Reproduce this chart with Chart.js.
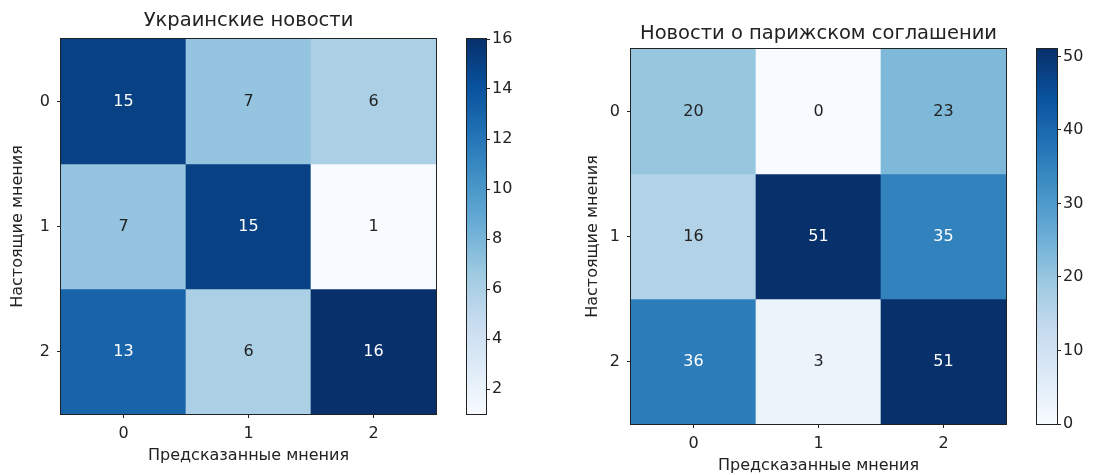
<!DOCTYPE html>
<html>
<head>
<meta charset="utf-8">
<script src="https://cdn.jsdelivr.net/npm/chart.js@4/dist/chart.umd.min.js"></script>
<style>
  html, body { margin: 0; padding: 0; background: #fff; }
  #fig { position: relative; width: 1094px; height: 475px; overflow: hidden; }
  #fig canvas { position: absolute; top: 0; }
</style>
</head>
<body>
<div id="fig">
  <canvas id="ukrMap" width="450" height="475" style="left:0px"></canvas>
  <canvas id="ukrBar" width="80" height="475" style="left:450px"></canvas>
  <canvas id="parMap" width="460" height="475" style="left:560px"></canvas>
  <canvas id="parBar" width="74" height="475" style="left:1020px"></canvas>
</div>
<script>
// data
const categories = ['0', '1', '2'];
const ukraineValues = [
  [15, 7, 6],
  [7, 15, 1],
  [13, 6, 16]
];
const parisValues = [
  [20, 0, 23],
  [16, 51, 35],
  [36, 3, 51]
];
const ukraineTicks = [2, 4, 6, 8, 10, 12, 14, 16];
const parisTicks = [0, 10, 20, 30, 40, 50];

const FONT = 'DejaVu Sans';
const INK = '#222';
const LABEL_SIZE = 16;
const TITLE_SIZE = 19.5;
// matplotlib "Blues"
const BLUES = ['#f7fbff', '#deebf7', '#c6dbef', '#9ecae1', '#6baed6', '#4292c6', '#2171b5', '#08519c', '#08306b'];

function hexRgb(h) {
  return [1, 3, 5].map(i => parseInt(h.substr(i, 2), 16));
}

function blues(t) {
  const i = Math.min(255, Math.max(0, Math.floor(t * 256)));
  const pos = i / 255 * 8;
  const k = Math.min(7, Math.floor(pos));
  const f = pos - k;
  const a = hexRgb(BLUES[k]), b = hexRgb(BLUES[k + 1]);
  const c = a.map((v, j) => Math.round(v + (b[j] - v) * f));
  return `rgb(${c[0]},${c[1]},${c[2]})`;
}

const framePlugin = {
  id: 'frame',
  afterDatasetsDraw(chart) {
    const { ctx, chartArea: a } = chart;
    ctx.save();
    ctx.strokeStyle = INK;
    ctx.lineWidth = 1;
    ctx.strokeRect(a.left - 0.5, a.top - 0.5, a.right - a.left + 1, a.bottom - a.top + 1);
    ctx.restore();
  }
};

function heatmap(id, values, title, box) {
  const flat = values.flat();
  const lo = Math.min(...flat), hi = Math.max(...flat);
  const thresh = hi / 2;

  const datasets = values.map((row, r) => ({
    data: row.map(() => [r - 0.5, r + 0.5]),
    backgroundColor: row.map(v => blues((v - lo) / (hi - lo))),
    borderWidth: 0,
    barPercentage: 1,
    categoryPercentage: 1,
    grouped: false
  }));

  const labelPlugin = {
    id: 'cellLabels',
    afterDatasetsDraw(chart) {
      const { ctx, scales: { x, y } } = chart;
      ctx.save();
      ctx.font = `${LABEL_SIZE}px "${FONT}"`;
      ctx.textAlign = 'center';
      ctx.textBaseline = 'middle';
      values.forEach((row, r) => {
        row.forEach((v, c) => {
          ctx.fillStyle = v > thresh ? '#fff' : INK;
          ctx.fillText(String(v), x.getPixelForValue(c), y.getPixelForValue(r));
        });
      });
      ctx.restore();
    }
  };

  const tickGrid = { drawOnChartArea: false, drawTicks: true, tickLength: 4, tickColor: INK, offset: false };

  new Chart(document.getElementById(id), {
    type: 'bar',
    data: { labels: categories, datasets },
    options: {
      responsive: false,
      devicePixelRatio: 1,
      animation: false,
      events: [],
      layout: { padding: { left: 0, right: box.padRight, top: 0, bottom: 0 } },
      plugins: {
        legend: { display: false },
        tooltip: { enabled: false },
        title: {
          display: true,
          fullSize: false,
          text: title,
          color: INK,
          font: { family: FONT, size: TITLE_SIZE, weight: 'normal' },
          padding: { top: box.titleTop, bottom: box.titleBottom }
        }
      },
      scales: {
        x: {
          type: 'category',
          offset: true,
          grid: tickGrid,
          border: { display: false },
          ticks: { color: INK, padding: 6.5, font: { family: FONT, size: LABEL_SIZE } },
          title: {
            display: true,
            text: 'Предсказанные мнения',
            color: INK,
            font: { family: FONT, size: LABEL_SIZE },
            padding: { top: 0, bottom: box.xTitlePad }
          },
          afterFit: s => { s.height = box.xAxisH; }
        },
        y: {
          type: 'linear',
          min: -0.5,
          max: 2.5,
          reverse: true,
          grid: tickGrid,
          border: { display: false },
          afterBuildTicks: s => { s.ticks = categories.map((c, i) => ({ value: i })); },
          ticks: {
            color: INK,
            padding: 7,
            font: { family: FONT, size: LABEL_SIZE },
            callback: v => categories[v]
          },
          title: {
            display: true,
            text: 'Настоящие мнения',
            color: INK,
            font: { family: FONT, size: LABEL_SIZE },
            padding: { top: box.yTitlePad, bottom: 0 }
          },
          afterFit: s => { s.width = box.yAxisW; }
        }
      }
    },
    plugins: [labelPlugin, framePlugin]
  });
}

function colorbar(id, values, tickValues, box) {
  const flat = values.flat();
  const lo = Math.min(...flat), hi = Math.max(...flat);

  new Chart(document.getElementById(id), {
    type: 'bar',
    data: {
      labels: [''],
      datasets: [{
        data: [[lo, hi]],
        backgroundColor: (ctx) => {
          const chart = ctx.chart;
          if (!chart.chartArea) return BLUES[4];
          const y = chart.scales.y;
          const g = chart.ctx.createLinearGradient(0, y.getPixelForValue(lo), 0, y.getPixelForValue(hi));
          BLUES.forEach((c, i) => g.addColorStop(i / (BLUES.length - 1), c));
          return g;
        },
        borderWidth: 0,
        barPercentage: 1,
        categoryPercentage: 1
      }]
    },
    options: {
      responsive: false,
      devicePixelRatio: 1,
      animation: false,
      events: [],
      layout: { padding: { left: box.padLeft, right: box.padRight, top: box.top, bottom: box.bottom } },
      plugins: { legend: { display: false }, tooltip: { enabled: false } },
      scales: {
        x: { type: 'category', display: false, offset: true },
        y: {
          type: 'linear',
          position: 'right',
          min: lo,
          max: hi,
          grid: { drawOnChartArea: false, drawTicks: true, tickLength: 4, tickColor: INK },
          border: { display: false },
          afterBuildTicks: s => { s.ticks = tickValues.map(v => ({ value: v })); },
          ticks: { color: INK, padding: 2, font: { family: FONT, size: LABEL_SIZE }, callback: v => String(v) },
          afterFit: s => { s.width = box.axisW; }
        }
      }
    },
    plugins: [framePlugin]
  });
}

heatmap('ukrMap', ukraineValues, 'Украинские новости', {
  padRight: 14, titleTop: 9.1, titleBottom: 6.5,
  xAxisH: 61, xTitlePad: 9.9, yAxisW: 61, yTitlePad: 7.9
});
colorbar('ukrBar', ukraineValues, ukraineTicks, { padLeft: 17, padRight: 4, axisW: 40, top: 39, bottom: 61 });

heatmap('parMap', parisValues, 'Новости о парижском соглашении', {
  padRight: 14, titleTop: 22.3, titleBottom: 3.3,
  xAxisH: 51, xTitlePad: 0, yAxisW: 71, yTitlePad: 23.4
});
colorbar('parBar', parisValues, parisTicks, { padLeft: 17, padRight: 0, axisW: 37, top: 49, bottom: 51 });
</script>
</body>
</html>
